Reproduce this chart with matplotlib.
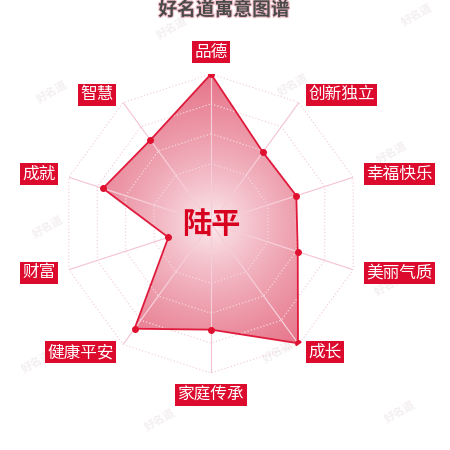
import numpy as np
import matplotlib
matplotlib.use('Agg')
import matplotlib.pyplot as plt
from matplotlib.patches import Polygon
import matplotlib.patheffects as pe

plt.rcParams['font.family'] = ['Noto Sans CJK SC', 'DejaVu Sans']

categories = ['品德', '创新独立', '幸福快乐', '美丽气质', '成长',
              '家庭传承', '健康平安', '财富', '成就', '智慧']
values = [100, 59, 60, 61, 99, 71, 87, 30, 76, 69]
title = '好名道寓意图谱'
name = '陆平'
levels = [20, 40, 60, 80, 100]
watermark = '好名道'
wm_pos = [(52, 92), (172, 28), (293, 85), (417, 15), (37, 362), (278, 352),
          (160, 420), (400, 412), (48, 227), (392, 153), (390, 285)]

W = H = 450
fig = plt.figure(figsize=(4.5, 4.5), dpi=100)
fig.patch.set_facecolor('white')
cx, cy, R = 211, 223.5, 149.5
pos = [(cx - R) / W, (H - cy - R) / H, 2 * R / W, 2 * R / H]

# background overlay for watermarks
axw = fig.add_axes([0, 0, 1, 1])
axw.set_xlim(0, W); axw.set_ylim(H, 0); axw.axis('off')
for (x, y) in wm_pos:
    axw.text(x, y, watermark, fontsize=8, color='#f4eff0', rotation=30,
             ha='center', va='center', fontweight='bold')

# cartesian axes for the gradient image
axg = fig.add_axes(pos)
axg.set_xlim(-1, 1); axg.set_ylim(-1, 1); axg.axis('off')
axg.patch.set_alpha(0)

ax = fig.add_axes(pos, projection='polar')
ax.set_theta_zero_location('N')
ax.set_theta_direction(-1)
ax.set_ylim(0, 100)
ax.axis('off')
ax.patch.set_alpha(0)

n = len(categories)
theta = np.linspace(0, 2 * np.pi, n, endpoint=False)
th_c = np.append(theta, theta[0])
v_c = np.append(values, values[0])

# grid rings (dotted decagons)
for lv in levels:
    ax.plot(th_c, [lv] * (n + 1), color='#f3c9d3', lw=0.8, ls=(0, (1, 2)), zorder=1)
# spokes
for t in theta:
    ax.plot([t, t], [0, 100], color='#f3c3d0', lw=0.8, zorder=1)

# polygon for clipping
poly = Polygon(np.column_stack([th_c, v_c]), closed=True, transform=ax.transData,
               facecolor='none', edgecolor='none')
ax.add_patch(poly)

# radial gradient image
N = 400
yy, xx = np.mgrid[-1:1:N * 1j, -1:1:N * 1j]
rr = np.clip(np.sqrt(xx ** 2 + yy ** 2), 0, 1)
t = rr ** 0.75
c0 = np.array([253, 242, 245]) / 255
c1 = np.array([230, 116, 137]) / 255
img = c0[None, None, :] + (c1 - c0)[None, None, :] * t[..., None]
im = axg.imshow(img, extent=(-1, 1, -1, 1), origin='lower', zorder=2)
im.set_clip_path(poly)

# lighter grid over the fill
for lv in levels:
    l, = ax.plot(th_c, [lv] * (n + 1), color='#fbe3e9', lw=0.8, ls=(0, (1, 2)), zorder=3, alpha=0.6)
    l.set_clip_path(poly)
for tt in theta:
    l, = ax.plot([tt, tt], [0, 100], color='#f8d3dc', lw=0.8, zorder=3, alpha=0.7)
    l.set_clip_path(poly)

ax.plot(th_c, v_c, color='#e01a3c', lw=1.3, zorder=4)
ax.plot(theta, values, 'o', color='#e0102f', ms=4, zorder=5)

# labels
r_lab = 106.6
for t_, lab in zip(theta, categories):
    s = np.sin(t_)
    c = np.cos(t_)
    if abs(s) < 1e-6:
        ha = 'center'
        va = 'bottom' if c > 0 else 'top'
        off = (0, 2.5 if c > 0 else -2.5)
    else:
        ha = 'left' if s > 0 else 'right'
        va = 'center'
        off = (2.5 if s > 0 else -2.5, 0)
    ax.annotate(lab, xy=(t_, r_lab), xytext=off, textcoords='offset points',
                ha=ha, va=va, fontsize=12, color='white', annotation_clip=False,
                bbox=dict(boxstyle='square,pad=0.15', fc='#dc0a2d', ec='none'),
                zorder=6)

# center name
ax.text(0, 0, name, ha='center', va='center', fontsize=21, fontweight='bold',
        color='#d8001f', zorder=7)

# title
fig.text(224 / W, 1 - 10 / H, title, ha='center', va='center', fontsize=13.5,
         fontweight='bold', color='#4a4a4a',
         path_effects=[pe.withStroke(linewidth=1.6, foreground='#f4c2cc')])

fig.savefig('out.png', dpi=100, facecolor='white')
